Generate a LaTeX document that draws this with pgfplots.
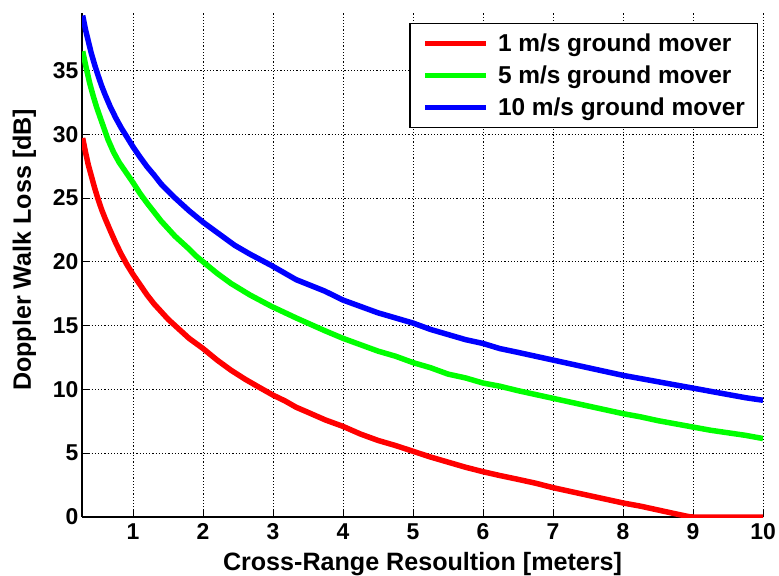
\documentclass[border=0pt]{standalone}
\usepackage{fontspec}
\setmainfont{Liberation Sans}
\usepackage{pgfplots}
\pgfplotsset{compat=1.18}
\begin{document}
\begin{tikzpicture}
\begin{axis}[
  scale only axis, width=681bp, height=504bp,
  xmin=0.27, xmax=10, ymin=0, ymax=39.5,
  xtick={1,2,...,10}, ytick={0,5,...,35},
  axis x line*=bottom, axis y line*=left,
  axis line style={black, line width=1.2bp, -},
  tick align=inside, major tick length=6bp,
  tick style={black, line width=1bp},
  grid=major,
  major grid style={black, line width=0.9bp, dash pattern=on 1.2bp off 2bp},
  /pgf/number format/assume math mode=true,
  ticklabel style={font=\fontsize{23}{26}\selectfont\bfseries},
  xticklabel style={yshift=-3bp},
  xlabel={Cross-Range Resoultion [meters]},
  ylabel={Doppler Walk Loss [dB]},
  label style={font=\fontsize{25.2}{28}\selectfont\bfseries},
  xlabel style={at={(axis description cs:0.5,0)}, anchor=base, yshift=-53bp},
  ylabel style={at={(axis description cs:-0.0749,0.53)}, anchor=base},
  legend cell align=left,
  legend image code/.code={\draw[#1] (0bp,0bp) -- (61bp,0bp);},
  legend style={at={(axis description cs:0.9927,0.980)}, anchor=north east,
    draw=black, line width=1.2bp, fill=white, inner xsep=12.5bp, inner ysep=8bp,
    font=\fontsize{24.5}{28}\selectfont\bfseries, row sep=8bp,
    /tikz/every odd column/.append style={column sep=9bp},
    nodes={inner sep=0pt, text height=20bp, text depth=4bp}},
]
\addplot[red, line width=5.5bp] coordinates {
(0.28,29.7) (0.32,28.6) (0.36,27.6) (0.40,26.8) (0.45,25.8) (0.50,24.9) (0.55,24.1)
(0.60,23.4) (0.67,22.5) (0.75,21.5) (0.83,20.6) (0.91,19.8) (1.00,19.0) (1.10,18.2)
(1.20,17.4) (1.30,16.7) (1.40,16.1) (1.50,15.5) (1.60,15.0) (1.80,14.0) (2.00,13.2)
(2.20,12.3) (2.40,11.5) (2.60,10.8) (2.79,10.2) (3.00,9.55) (3.17,9.1) (3.33,8.6)
(3.50,8.2) (3.75,7.6) (4.00,7.1) (4.25,6.5) (4.50,6.0) (4.75,5.6) (5.00,5.15)
(5.25,4.7) (5.50,4.3) (5.75,3.9) (6.00,3.55) (6.24,3.25) (6.50,2.95) (6.75,2.65)
(7.00,2.3) (7.25,2.0) (7.50,1.7) (7.75,1.4) (8.00,1.1) (8.25,0.85) (8.50,0.55)
(8.75,0.25) (8.95,0.02) (9.00,0) (10.0,0)
};
\addlegendentry{1 m/s ground mover}
\addplot[green, line width=5.5bp] coordinates {
(0.28,36.5) (0.33,35.2) (0.38,34.0) (0.43,33.0) (0.48,32.1) (0.55,31.0) (0.64,29.6)
(0.72,28.6) (0.80,27.8) (0.90,27.0) (1.00,26.2) (1.10,25.35) (1.20,24.6) (1.30,23.9)
(1.40,23.2) (1.50,22.6) (1.60,22.0) (1.70,21.5) (1.80,21.0) (1.90,20.45) (2.00,20.0)
(2.20,19.1) (2.40,18.3) (2.67,17.4) (2.98,16.5) (3.33,15.6) (3.74,14.6) (4.00,14.0)
(4.25,13.5) (4.50,13.0) (4.75,12.6) (5.00,12.1) (5.25,11.7) (5.50,11.2) (5.75,10.9)
(6.00,10.5) (6.24,10.25) (6.50,9.9) (6.75,9.6) (7.00,9.3) (7.25,9.0) (7.50,8.7)
(7.75,8.4) (8.00,8.1) (8.25,7.85) (8.50,7.55) (8.75,7.3) (9.00,7.05) (9.25,6.8)
(9.50,6.6) (9.75,6.4) (10.0,6.15)
};
\addlegendentry{5 m/s ground mover}
\addplot[blue, line width=5.5bp] coordinates {
(0.28,39.3) (0.32,38.2) (0.36,37.3) (0.40,36.4) (0.45,35.45) (0.50,34.6) (0.55,33.8)
(0.60,33.1) (0.67,32.2) (0.75,31.3) (0.83,30.5) (0.91,29.8) (1.00,29.0) (1.10,28.2)
(1.20,27.45) (1.30,26.8) (1.40,26.1) (1.50,25.55) (1.60,25.0) (1.70,24.5) (1.80,24.0)
(1.90,23.55) (2.00,23.1) (2.25,22.1) (2.45,21.3) (2.67,20.6) (2.98,19.7) (3.33,18.6)
(3.74,17.7) (4.00,17.0) (4.25,16.5) (4.50,16.0) (4.75,15.6) (5.00,15.2) (5.25,14.7)
(5.50,14.3) (5.75,13.9) (6.00,13.6) (6.24,13.2) (6.50,12.9) (6.75,12.6) (7.00,12.3)
(7.25,12.0) (7.50,11.7) (7.75,11.4) (8.00,11.1) (8.25,10.85) (8.50,10.6) (8.75,10.35)
(9.00,10.1) (9.25,9.85) (9.50,9.6) (9.75,9.35) (10.0,9.15)
};
\addlegendentry{10 m/s ground mover}
\coordinate (bl) at (rel axis cs:0,0);
\coordinate (tr) at (rel axis cs:1,1);
\end{axis}
\pgfresetboundingbox
\path ([shift={(-82bp,-58bp)}]bl) rectangle ([shift={(16bp,13bp)}]tr);
\end{tikzpicture}
\end{document}
